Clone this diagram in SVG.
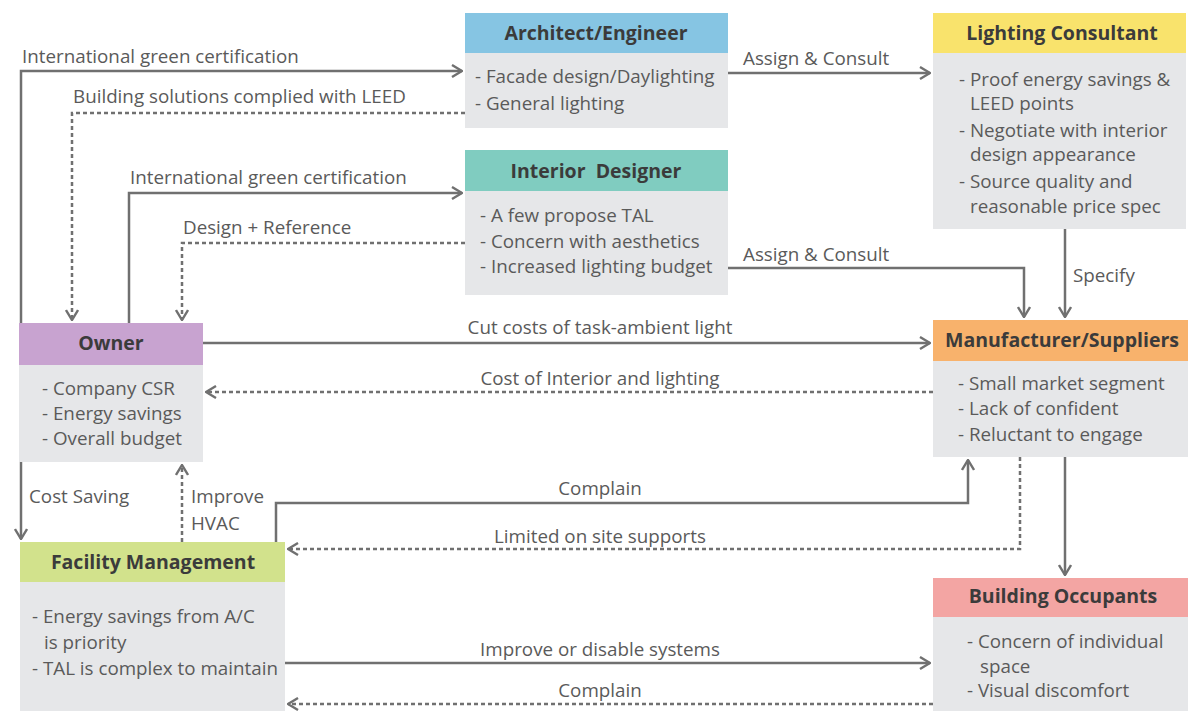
<svg xmlns="http://www.w3.org/2000/svg" width="1188" height="711" viewBox="0 0 1188 711">
<style>
.hdr{font-family:"Open Sans","Liberation Sans",sans-serif;font-weight:bold;font-size:19.5px;fill:#3b3b3b;text-anchor:middle}
.bd{font-family:"Open Sans","Liberation Sans",sans-serif;font-size:18.8px;fill:#5a5a5a}
.lb{font-family:"Open Sans","Liberation Sans",sans-serif;font-size:18.8px;fill:#5a5a5a}
.mid{text-anchor:middle}
.body{fill:#e6e7e9}
.ln{fill:none;stroke:#707070;stroke-width:2.5;marker-end:url(#ah)}
.dl{fill:none;stroke:#707070;stroke-width:2.5;stroke-dasharray:4 3;marker-end:url(#ah)}
</style>
<defs>
<marker id="ah" markerUnits="userSpaceOnUse" viewBox="0 0 12 14" markerWidth="12" markerHeight="14" refX="11" refY="7" orient="auto">
<path d="M1,1 L11,7 L1,13" fill="none" stroke="#707070" stroke-width="2.4"/>
</marker>
</defs>
<rect width="1188" height="711" fill="#ffffff"/>

<g id="architect">
<rect class="body" x="465" y="53" width="263" height="75"/>
<rect x="465" y="13" width="263" height="40" fill="#86c5e3"/>
<text class="hdr" x="596" y="40">Architect/Engineer</text>
<text class="bd" x="475" y="83">- Facade design/Daylighting</text>
<text class="bd" x="475" y="110">- General lighting</text>
</g>

<g id="interior">
<rect class="body" x="465" y="191" width="263" height="104"/>
<rect x="465" y="150" width="263" height="41" fill="#80ccc0"/>
<text class="hdr" x="596" y="178" xml:space="preserve">Interior  Designer</text>
<text class="bd" x="480" y="222">- A few propose TAL</text>
<text class="bd" x="480" y="248">- Concern with aesthetics</text>
<text class="bd" x="480" y="273">- Increased lighting budget</text>
</g>

<g id="lighting">
<rect class="body" x="933" y="53" width="253" height="176"/>
<rect x="933" y="13" width="253" height="40" fill="#f9e36c"/>
<text class="hdr" x="1062" y="40">Lighting Consultant</text>
<text class="bd" x="959" y="86">- Proof energy savings &amp;</text>
<text class="bd" x="970" y="110">LEED points</text>
<text class="bd" x="959" y="137">- Negotiate with interior</text>
<text class="bd" x="970" y="161">design appearance</text>
<text class="bd" x="959" y="188">- Source quality and</text>
<text class="bd" x="970" y="213">reasonable price spec</text>
</g>

<g id="owner">
<rect class="body" x="19" y="365" width="184" height="97"/>
<rect x="19" y="323" width="184" height="42" fill="#c8a3d0"/>
<text class="hdr" x="111" y="350">Owner</text>
<text class="bd" x="42" y="395">- Company CSR</text>
<text class="bd" x="42" y="420">- Energy savings</text>
<text class="bd" x="42" y="445">- Overall budget</text>
</g>

<g id="manufacturer">
<rect class="body" x="933" y="361" width="255" height="96"/>
<rect x="933" y="320" width="255" height="41" fill="#f8b26c"/>
<text class="hdr" x="1062" y="347">Manufacturer/Suppliers</text>
<text class="bd" x="958" y="390">- Small market segment</text>
<text class="bd" x="958" y="415">- Lack of confident</text>
<text class="bd" x="958" y="441">- Reluctant to engage</text>
</g>

<g id="facility">
<rect class="body" x="20" y="582" width="265" height="129"/>
<rect x="20" y="542" width="265" height="40" fill="#d2e28c"/>
<text class="hdr" x="153" y="569">Facility Management</text>
<text class="bd" x="32" y="623">- Energy savings from A/C</text>
<text class="bd" x="44" y="649">is priority</text>
<text class="bd" x="32" y="675">- TAL is complex to maintain</text>
</g>

<g id="occupants">
<rect class="body" x="933" y="617" width="255" height="94"/>
<rect x="933" y="578" width="255" height="39" fill="#f3a5a3"/>
<text class="hdr" x="1063" y="603">Building Occupants</text>
<text class="bd" x="967" y="648">- Concern of individual</text>
<text class="bd" x="980" y="673">space</text>
<text class="bd" x="967" y="697">- Visual discomfort</text>
</g>

<g id="connectors">
<path class="ln" d="M21,323 V71 H462"/>
<path class="dl" d="M465,113 H72 V320"/>
<path class="ln" d="M129,323 V193 H462"/>
<path class="dl" d="M465,243 H182 V320"/>
<path class="ln" d="M728,73 H930"/>
<path class="ln" d="M728,268 H1024 V317"/>
<path class="ln" d="M1065,229 V317"/>
<path class="ln" d="M203,343 H930"/>
<path class="dl" d="M933,392 H206"/>
<path class="ln" d="M276,542 V503 H968 V460"/>
<path class="dl" d="M1020,457 V549 H288"/>
<path class="ln" d="M1065,457 V575"/>
<path class="ln" d="M21,462 V539"/>
<path class="dl" d="M182,542 V465"/>
<path class="ln" d="M285,663 H930"/>
<path class="dl" d="M933,704 H288"/>

<text class="lb" x="22" y="63">International green certification</text>
<text class="lb" x="73" y="103">Building solutions complied with LEED</text>
<text class="lb" x="130" y="184">International green certification</text>
<text class="lb" x="183" y="234">Design + Reference</text>
<text class="lb" x="743" y="65">Assign &amp; Consult</text>
<text class="lb" x="743" y="261">Assign &amp; Consult</text>
<text class="lb" x="1073" y="282">Specify</text>
<text class="lb mid" x="600" y="334">Cut costs of task-ambient light</text>
<text class="lb mid" x="600" y="385">Cost of Interior and lighting</text>
<text class="lb mid" x="600" y="495">Complain</text>
<text class="lb mid" x="600" y="543">Limited on site supports</text>
<text class="lb mid" x="600" y="656">Improve or disable systems</text>
<text class="lb mid" x="600" y="697">Complain</text>
<text class="lb" x="29" y="503">Cost Saving</text>
<text class="lb" x="191" y="503">Improve</text>
<text class="lb" x="191" y="530">HVAC</text>
</g>
</svg>
